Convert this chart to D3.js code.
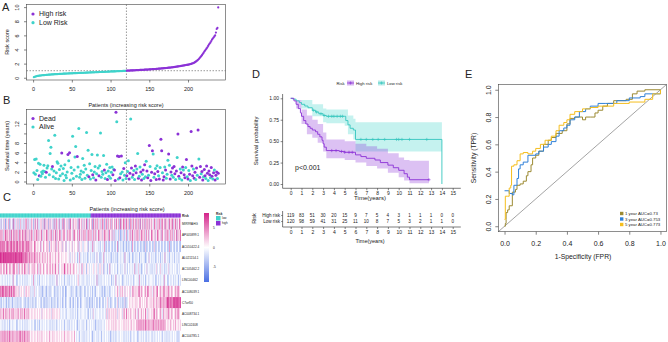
<!DOCTYPE html>
<html>
<head>
<meta charset="utf-8">
<script src="https://cdn.jsdelivr.net/npm/d3@7"></script>
<style>
body { margin: 0; background: #fff; }
text { font-family: "Liberation Sans", Arial, sans-serif; fill: #222; }
</style>
</head>
<body>
<svg id="fig" width="668" height="342"></svg>
<script>
// ----- data -----
const nLow = 120;          // first 120 patients = low risk, remaining 119 = high risk
const cutoff = 0.995;      // median risk score

const riskScore = [
  0.08,0.13,0.17,0.2,0.23,0.25,0.27,0.29,0.31,0.32,
  0.34,0.35,0.36,0.37,0.38,0.39,0.40,0.41,0.42,0.43,
  0.44,0.45,0.46,0.47,0.47,0.48,0.49,0.5,0.5,0.51,
  0.52,0.52,0.53,0.54,0.54,0.55,0.56,0.56,0.57,0.57,
  0.58,0.59,0.59,0.6,0.6,0.61,0.61,0.62,0.62,0.63,
  0.63,0.64,0.64,0.65,0.65,0.66,0.66,0.67,0.67,0.68,
  0.68,0.69,0.69,0.7,0.7,0.71,0.71,0.72,0.72,0.73,
  0.73,0.74,0.74,0.75,0.75,0.76,0.76,0.77,0.77,0.78,
  0.78,0.79,0.79,0.8,0.8,0.81,0.81,0.82,0.82,0.83,
  0.83,0.84,0.84,0.85,0.85,0.86,0.86,0.87,0.87,0.88,
  0.88,0.89,0.89,0.9,0.9,0.91,0.91,0.92,0.92,0.93,
  0.93,0.94,0.94,0.95,0.95,0.96,0.96,0.97,0.98,0.99,
  1.0,1.01,1.01,1.02,1.02,1.03,1.03,1.04,1.04,1.05,
  1.05,1.06,1.07,1.07,1.08,1.08,1.09,1.1,1.1,1.11,
  1.12,1.12,1.13,1.14,1.14,1.15,1.16,1.16,1.17,1.18,
  1.19,1.19,1.2,1.21,1.22,1.22,1.23,1.24,1.25,1.26,
  1.27,1.28,1.29,1.3,1.31,1.32,1.33,1.34,1.35,1.36,
  1.37,1.38,1.39,1.4,1.42,1.43,1.44,1.45,1.47,1.48,
  1.5,1.51,1.53,1.54,1.56,1.58,1.6,1.61,1.63,1.65,
  1.67,1.69,1.71,1.73,1.75,1.77,1.79,1.81,1.83,1.85,
  1.87,1.9,1.93,1.96,2.0,2.04,2.08,2.13,2.2,2.28,
  2.36,2.45,2.55,2.65,2.78,2.92,3.05,3.2,3.35,3.52,
  3.7,3.85,4.0,4.15,4.3,4.5,4.7,4.85,5.0,5.2,
  5.4,5.55,5.7,5.85,6.0,6.4,6.9,7.05,9.95
];

const survTime = [
  1.8,4.6,1.5,4.7,2.3,0.4,3.8,1.2,3.6,1.1,
  2.0,1.6,2.2,3.4,2.1,0.9,1.9,2.8,3.3,8.5,
  1.4,5.8,7.1,2.6,3.1,1.0,2.2,9.6,0.6,1.8,
  4.1,3.8,0.5,2.5,1.2,3.2,5.9,1.6,2.7,0.2,
  3.5,1.3,0.8,2.0,5.6,4.3,6.0,0.3,2.9,1.7,
  9.4,0.6,2.4,5.1,7.3,1.1,5.2,3.0,11.0,0.9,
  1.5,2.2,0.4,4.8,1.9,3.4,0.7,2.6,10.2,1.3,
  6.5,1.0,3.7,0.5,2.3,5.6,1.4,0.8,2.0,3.1,
  0.3,1.6,5.5,2.8,1.2,3.3,10.1,0.9,2.1,1.5,
  5.4,2.4,0.6,1.8,3.6,0.4,2.2,1.1,2.9,0.7,
  1.9,3.0,1.4,2.5,2.4,0.2,14.4,12.4,5.3,0.5,
  5.2,0.8,1.6,5.3,2.0,0.3,2.7,1.3,3.9,0.6,
  1.2,2.1,4.3,0.5,1.7,13.0,2.8,0.9,1.4,2.3,
  0.4,3.2,1.8,2.6,5.8,0.7,1.1,3.0,2.0,0.3,
  1.5,2.4,0.6,3.5,1.0,4.2,2.2,0.8,1.3,7.5,
  3.1,0.2,1.9,6.4,5.7,0.9,1.6,2.7,0.4,3.3,
  2.1,1.2,0.5,2.9,8.8,6.4,1.8,0.3,1.0,3.0,
  2.4,0.7,1.5,4.4,5.7,3.4,0.5,2.0,1.3,2.8,
  0.9,3.1,1.6,0.4,2.2,5.0,9.9,1.1,0.6,2.6,
  1.8,0.3,3.0,2.4,1.4,0.8,2.9,4.6,1.0,0.5,
  2.3,1.5,0.2,10.4,3.2,1.2,2.6,0.7,1.9,0.4,
  2.8,1.3,10.7,4.7,0.9,3.1,1.6,2.1,0.3,1.0,
  2.5,1.2,0.6,3.2,1.7,0.2,2.2,1.4,0.8,2.9,
  1.1,0.5,1.8,2.4,0.3,1.3,2.0,0.6,1.7
];

const survDead = [
  0,0,0,0,0,0,0,1,0,0,
  0,0,0,0,0,0,1,0,0,0,
  0,0,0,0,1,0,0,0,0,0,
  0,0,0,0,0,0,1,0,0,0,
  0,0,0,0,1,0,1,0,0,0,
  0,0,0,0,0,0,1,0,0,0,
  0,0,0,0,0,0,0,0,0,0,
  0,1,0,0,0,0,1,0,0,0,
  1,0,0,0,1,0,0,0,0,0,
  0,1,0,0,0,1,0,0,0,0,
  0,0,1,0,1,1,1,0,1,0,
  1,1,0,1,0,0,1,0,0,0,
  1,0,0,1,1,0,1,0,1,0,
  0,1,1,0,0,1,0,0,1,1,
  0,1,0,1,0,0,1,1,0,1,
  0,1,1,1,0,0,1,0,1,0,
  1,0,1,0,1,1,0,1,1,0,
  1,0,0,0,1,0,1,1,0,1,
  0,1,1,0,1,0,1,1,0,0,
  1,0,1,0,1,1,0,1,0,1,
  0,1,0,1,1,1,0,1,1,0,
  1,0,1,0,1,1,0,1,1,0,
  1,1,0,1,1,0,1,1,0,1,
  1,0,1,0,1,1,1,0,1
];

const genes = ["MIR99AHG","AP005899.1","AC010422.4","AL021154.1","AC105462.2","LINC00462",
               "AC108039.1","C7orf50","AC008734.1","LINC02408","AC104785.1"];

// one digit per patient, 4 = 0 (white), 8 = strong pink, 0 = strong blue
const heatLevels = [
  "3524364153 4625343725 3463524634 2536473524 3645253746 2435463527 3546253643 5263745362 4357264535 3627453646 4536274563 5364725364 4627536475 3546374625 5736456374 4635746527 3647563746 5274637456 3746527463 5637465374 6453746356 4736574637 5463746573 6475364756",
  "6475364857 4563674736 5746375648 4657365473 5746356475 6354763546 4756354763 5647365475 6354764536 4756453674 5463574635 6475364756 4635746354 7564536475 6453764536 3524342352 2435324632 4563574635 6475364756 4635746354 7564536475 6453764536 5746357463 5647365476",
  "6857676567 7657685767 5768567657 6756586756 5645475645 4546354654 4564525464 5456364645 4536445254 4354463454 4453634543 3454435243 4363534434 3423434363 3243234332 4323462343 3432343234 2343264323 4323432342 3253234323 4323532343 2343234323 4323632343 3243234324",
  "8787878878 7878787787 8787778787 6767676567 5656575656 4565456546 5465456545 4546454654 4545445454 4353453454 3424363434 3343423343 3434234353 4323343634 3343433243 3424324343 4343363434 3243423343 3434234343 4323343534 3343423343 3424334363 4343243434 3243433342",
  "5654656475 5465645676 4565365456 5475645365 4546564546 5356454654 4565456546 5457454634 4546485546 5456454654 4543454365 3454245434 4345434543 3464345234 3424363434 4343424343 3434353424 4343434363 3435343234 4343534343 3424343534 4353434243 3435343434 4343424343",
  "4343434343 3434343634 4323434343 3434243434 4343634343 3424343434 4343434243 3434363434 4343424343 3424343434 4346434343 3434342434 4343434363 3424343434 4343434243 3436343434 4323434343 3434342434 4343634343 3424343434 4343432343 3434343634 4323434343 3434342434",
  "6758756767 5676585676 5464535454 4535464545 3424353434 4333422343 3234332434 4323423343 3432342234 4343324343 3234332424 4323433343 3424332434 4343324323 3434233434 4345464535 5464535454 4535465645 5456745654 4565476545 5436545674 4565456745 5476545654 4565476544",
  "3324334323 4233432343 3423342334 4332433243 3423342334 4343324323 3324334323 4233432343 3423342334 4332433243 3423342334 4343324323 3324334323 4233432343 3453342334 4332453243 3423352334 4545454545 5454565454 4545654545 5456545654 6575656565 6787676767 7877787688",
  "5645745656 4565465745 5465645656 4575465645 4545454545 4454535454 4545454535 5454545454 3434343424 4343424343 3424343434 4343433243 3435343434 4343434343 4635464545 5464535454 4535654745 5464545456 4536454645 5474535454 5456745654 4565436545 5476545654 4565476545",
  "4343424343 3424343434 4323434343 3434243434 4343432343 3424343434 4343434243 3434243434 4343424343 3424343434 4323434343 3434243434 4343432343 3424343434 4545454545 5464545454 4545464545 5454645454 5656575656 6575656565 5657565656 6565756565 4545464545 5464545454",
  "5656575656 6575656565 5656566756 6575656565 4545454545 5454645454 4545464545 5454545454 4545464545 5454545464 4343424343 3424343434 4323434343 3434243434 4343432343 3424343434 4343424343 3424343434 4323434343 3434243434 3424343434 4343424343 3424343434 4343423343"
];

// Kaplan-Meier (time in years, survival)
const highKM = [[0,1],[0.3,0.97],[0.5,0.93],[0.7,0.88],[0.9,0.83],[1.0,0.79],[1.2,0.74],[1.4,0.7],[1.6,0.67],[1.8,0.65],[2.0,0.63],[2.3,0.61],[2.5,0.58],[2.7,0.55],[2.9,0.51],[3.0,0.47],[3.1,0.43],[3.3,0.39],[4.5,0.38],[5.0,0.37],[6.0,0.34],[6.5,0.32],[7.0,0.30],[7.8,0.28],[8.3,0.25],[9.0,0.22],[9.5,0.19],[10.0,0.16],[10.5,0.12],[10.8,0.08],[11.0,0.05],[12.8,0.05]];
const lowKM = [[0,1],[0.2,0.99],[0.5,0.97],[0.8,0.95],[1.0,0.93],[1.3,0.91],[1.6,0.89],[2.0,0.86],[2.3,0.84],[2.6,0.82],[3.0,0.80],[3.3,0.79],[5.0,0.79],[5.1,0.74],[5.3,0.69],[5.5,0.65],[5.8,0.63],[6.0,0.52],[14.0,0.52],[14.0,0]];
// [time, lower, upper]
const highBand = [[0,1,1],[0.5,0.88,0.98],[1,0.7,0.87],[1.5,0.58,0.8],[2,0.54,0.75],[2.5,0.48,0.7],[3,0.38,0.6],[3.3,0.3,0.52],[5,0.28,0.5],[6,0.25,0.47],[7,0.21,0.44],[8,0.18,0.41],[9,0.13,0.36],[10,0.08,0.31],[10.5,0.04,0.28],[11,0.01,0.27],[12.8,0.01,0.27]];
const lowBand = [[0,1,1],[1,0.88,0.98],[2,0.79,0.93],[3,0.72,0.88],[3.3,0.71,0.87],[5.0,0.68,0.87],[5.3,0.58,0.8],[5.8,0.52,0.76],[6,0.38,0.72],[14,0.38,0.72]];
const highCensor = [3.8,4.2,4.7,5.0,5.4,5.7,12.8];
const lowCensor = [2.1,2.4,2.8,3.1,3.5,3.8,4.0,4.3,4.6,4.8,6.5,7.0,7.6,8.1,8.7,9.8,10.0,10.3,11.0,12.6];
const timeTicks = d3.range(0, 16);
const highAtRisk = [119,83,51,30,20,15,9,7,5,4,3,1,1,1,0,0];
const lowAtRisk  = [120,98,59,41,31,25,11,10,8,7,5,3,2,1,1,0];

// ROC curves [FPR, TPR]
const roc1 = [[0,0],[0.005,0.02],[0.01,0.05],[0.01,0.1],[0.02,0.12],[0.03,0.15],[0.05,0.17],[0.05,0.25],[0.07,0.27],[0.08,0.3],[0.1,0.31],[0.12,0.33],[0.14,0.37],[0.15,0.4],[0.17,0.45],[0.18,0.5],[0.2,0.52],[0.22,0.55],[0.25,0.6],[0.28,0.63],[0.3,0.65],[0.33,0.68],[0.37,0.7],[0.4,0.75],[0.42,0.79],[0.45,0.8],[0.5,0.78],[0.52,0.8],[0.55,0.8],[0.58,0.83],[0.6,0.85],[0.63,0.88],[0.66,0.9],[0.7,0.92],[0.78,0.93],[0.82,0.97],[0.85,0.99],[0.9,1.0],[1,1]];
const roc3 = [[0,0.26],[0.03,0.24],[0.05,0.23],[0.06,0.3],[0.08,0.35],[0.09,0.42],[0.1,0.45],[0.12,0.47],[0.15,0.52],[0.2,0.53],[0.22,0.55],[0.25,0.58],[0.28,0.6],[0.3,0.62],[0.33,0.66],[0.35,0.7],[0.38,0.72],[0.4,0.74],[0.42,0.78],[0.45,0.8],[0.48,0.84],[0.52,0.86],[0.55,0.88],[0.6,0.9],[0.65,0.9],[0.72,0.92],[0.8,0.94],[0.87,0.95],[0.9,0.97],[1,1]];
const roc5 = [[0,0.05],[0.005,0.22],[0.02,0.22],[0.03,0.28],[0.04,0.3],[0.045,0.44],[0.06,0.45],[0.08,0.48],[0.1,0.53],[0.12,0.54],[0.15,0.53],[0.18,0.55],[0.2,0.57],[0.23,0.6],[0.26,0.63],[0.3,0.66],[0.33,0.7],[0.35,0.74],[0.38,0.76],[0.4,0.78],[0.42,0.82],[0.45,0.84],[0.5,0.86],[0.55,0.87],[0.6,0.88],[0.7,0.9],[0.8,0.91],[0.9,0.93],[0.95,0.97],[1,1]];
const rocNames = ["1 year AUC=0.73","3 year AUC=0.753","5 year AUC=0.773"];

// ----- drawing -----
const purple = "#8B32D6", teal = "#3FD3CB";
const rocColors = ["#9C8A32", "#2F80D8", "#F5BE1E"];
const svg = d3.select("#fig");
svg.append("rect").attr("width", 668).attr("height", 342).attr("fill", "#fff");

const nPat = riskScore.length;
const xPat = d3.scaleLinear().domain([1 - 9.52, nPat + 9.52]).range([26.5, 225.6]);

function styleAxis(g, size) {
  g.select(".domain").remove();
  g.selectAll("line").attr("stroke", "#333").attr("stroke-width", 0.6);
  g.selectAll("text").attr("font-size", size).attr("fill", "#222").attr("font-family", "Liberation Sans, Arial, sans-serif");
}
function rotateLeftLabels(g, off) {
  g.selectAll("text").attr("x", 0).attr("dy", 0).attr("text-anchor", "middle")
    .attr("transform", `translate(${-off},0) rotate(-90)`);
}
function box(x0, x1, y0, y1) {
  svg.append("rect").attr("x", x0).attr("y", y0).attr("width", x1 - x0).attr("height", y1 - y0)
    .attr("fill", "none").attr("stroke", "#444").attr("stroke-width", 0.6);
}
function txt(s, x, y, size, opts = {}) {
  const t = svg.append("text").attr("x", x).attr("y", y).attr("font-size", size).text(s)
    .attr("text-anchor", opts.anchor || "start");
  if (opts.rotate) t.attr("transform", `rotate(-90,${x},${y})`);
  if (opts.fill) t.attr("fill", opts.fill);
  if (opts.weight) t.attr("font-weight", opts.weight);
  return t;
}

// panel letters
[["A", 2, 10.5], ["B", 3, 103.5], ["C", 3, 201], ["D", 252, 77.5], ["E", 465, 77.5]]
  .forEach(([l, x, y]) => txt(l, x, y, 11));

// ---- A: risk score ----
const yRisk = d3.scaleLinear().domain([-0.32, 10.37]).range([80, 4.5]);
box(26.5, 225.6, 4.5, 80);
svg.append("line").attr("x1", xPat(nLow + 0.5)).attr("x2", xPat(nLow + 0.5)).attr("y1", 4.5).attr("y2", 80)
  .attr("stroke", "#555").attr("stroke-width", 0.6).attr("stroke-dasharray", "1.5,1.5");
svg.append("line").attr("x1", 26.5).attr("x2", 225.6).attr("y1", yRisk(cutoff)).attr("y2", yRisk(cutoff))
  .attr("stroke", "#555").attr("stroke-width", 0.6).attr("stroke-dasharray", "1.5,1.5");
svg.append("g").selectAll("circle").data(riskScore).join("circle")
  .attr("cx", (d, i) => xPat(i + 1)).attr("cy", d => yRisk(d)).attr("r", 1.1)
  .attr("fill", (d, i) => i < nLow ? teal : purple);
svg.append("g").attr("transform", "translate(0,80)")
  .call(d3.axisBottom(xPat).tickValues([0, 50, 100, 150, 200]).tickSize(2.5).tickPadding(5))
  .call(g => styleAxis(g, 5.5));
svg.append("g").attr("transform", "translate(26.5,0)")
  .call(d3.axisLeft(yRisk).tickValues([0, 2, 4, 6, 8, 10]).tickSize(2.5))
  .call(g => styleAxis(g, 5.5)).call(g => rotateLeftLabels(g, 8));
txt("Patients (increasing risk score)", 126, 107, 5.5, { anchor: "middle" });
txt("Risk score", 9, 42, 5.5, { anchor: "middle", rotate: true });
[["High risk", purple, 14], ["Low Risk", teal, 22.7]].forEach(([l, c, y]) => {
  svg.append("circle").attr("cx", 33).attr("cy", y).attr("r", 1.6).attr("fill", c);
  txt(l, 39, y + 2.4, 7);
});

// ---- B: survival time ----
const yTime = d3.scaleLinear().domain([-0.52, 14.97]).range([184, 109.5]);
box(26.5, 225.6, 109.5, 184);
svg.append("line").attr("x1", xPat(nLow + 0.5)).attr("x2", xPat(nLow + 0.5)).attr("y1", 109.5).attr("y2", 184)
  .attr("stroke", "#555").attr("stroke-width", 0.6).attr("stroke-dasharray", "1.5,1.5");
svg.append("g").selectAll("circle").data(survTime).join("circle")
  .attr("cx", (d, i) => xPat(i + 1)).attr("cy", d => yTime(d)).attr("r", 1.5)
  .attr("fill", (d, i) => survDead[i] ? purple : teal);
svg.append("g").attr("transform", "translate(0,184)")
  .call(d3.axisBottom(xPat).tickValues([0, 50, 100, 150, 200]).tickSize(2.5).tickPadding(5))
  .call(g => styleAxis(g, 5.5));
svg.append("g").attr("transform", "translate(26.5,0)")
  .call(d3.axisLeft(yTime).tickValues([0, 2, 4, 6, 8, 10, 12]).tickSize(2.5)
    .tickFormat(d => d === 10 ? "" : d))
  .call(g => styleAxis(g, 5.5)).call(g => rotateLeftLabels(g, 8));
txt("Survival time (years)", 9, 146, 5.5, { anchor: "middle", rotate: true });
[["Dead", purple, 118.5], ["Alive", teal, 127]].forEach(([l, c, y]) => {
  svg.append("circle").attr("cx", 33).attr("cy", y).attr("r", 1.6).attr("fill", c);
  txt(l, 39, y + 2.4, 7);
});

// ---- C: heatmap ----
const patIdx = d3.range(nPat);
const xHeat = d3.scaleBand().domain(patIdx).range([0, 180.5]);
const yHeat = d3.scaleBand().domain(genes).range([218.5, 342]);
const heatColor = d3.scaleLinear().domain([-9, 0, 9]).range(["#4A6FE3", "#ffffff", "#D4238A"]).clamp(true);
txt("Patients (increasing risk score)", 127, 211, 5.5, { anchor: "middle" });
svg.append("g").selectAll("rect").data(patIdx).join("rect")
  .attr("x", d => xHeat(d)).attr("y", 213.5).attr("width", xHeat.bandwidth() + 0.3).attr("height", 4)
  .attr("fill", d => d < nLow ? teal : purple);
txt("Risk", 182, 216.8, 3.2, { weight: "bold" });
const heatCells = [];
genes.forEach((g, gi) => {
  const lv = heatLevels[gi].replace(/ /g, "").split("").map(Number).slice(0, nPat);
  lv.forEach((v, j) => heatCells.push({ g, j, v: (v - 4) * 2.4 }));
});
svg.append("g").selectAll("rect").data(heatCells).join("rect")
  .attr("x", d => xHeat(d.j)).attr("y", d => yHeat(d.g))
  .attr("width", xHeat.bandwidth() + 0.3).attr("height", yHeat.bandwidth())
  .attr("fill", d => heatColor(d.v));
genes.forEach(g => txt(g, 182, yHeat(g) + yHeat.bandwidth() / 2 + 1.1, 3.1));
// colour key
const grad = svg.append("defs").append("linearGradient").attr("id", "hk")
  .attr("x1", 0).attr("x2", 0).attr("y1", 0).attr("y2", 1);
[[0, "#D4238A"], [0.5, "#ffffff"], [1, "#4A6FE3"]].forEach(([o, c]) =>
  grad.append("stop").attr("offset", o).attr("stop-color", c));
const yKey = d3.scaleLinear().domain([-9, 9]).range([282, 213]);
svg.append("rect").attr("x", 204).attr("y", 213).attr("width", 5).attr("height", 69).attr("fill", "url(#hk)");
[5, 0, -5].forEach(v => txt(v, 213, yKey(v) + 1, 3.2));
txt("Risk", 216, 215, 3, { weight: "bold" });
[["low", teal, 216], ["high", purple, 221]].forEach(([l, c, y]) => {
  svg.append("rect").attr("x", 216).attr("y", y).attr("width", 4.5).attr("height", 4.5).attr("fill", c);
  txt(l, 222, y + 3.2, 3);
});

// ---- D: Kaplan-Meier ----
const xT = d3.scaleLinear().domain([0, 15]).range([290.7, 452.7]);
const yS = d3.scaleLinear().domain([0, 1]).range([184, 98.3]);
const dLeft = xT(-0.75), dRight = xT(15.75), dBottom = yS(-0.05), dTop = yS(1.05);
const band = d3.area().curve(d3.curveStepAfter).x(d => xT(d[0])).y0(d => yS(d[1])).y1(d => yS(d[2]));
const kmLine = d3.line().curve(d3.curveStepAfter).x(d => xT(d[0])).y(d => yS(d[1]));
svg.append("path").attr("d", band(lowBand)).attr("fill", teal).attr("opacity", 0.3);
svg.append("path").attr("d", band(highBand)).attr("fill", purple).attr("opacity", 0.3);
svg.append("path").attr("d", kmLine(lowKM)).attr("fill", "none").attr("stroke", "#35C6BE").attr("stroke-width", 0.9);
svg.append("path").attr("d", kmLine(highKM)).attr("fill", "none").attr("stroke", purple).attr("stroke-width", 0.9);
function survAt(km, t) { let s = 1; km.forEach(([tt, ss]) => { if (tt <= t && ss > 0) s = ss; }); return s; }
function censor(times, km, col) {
  svg.append("g").selectAll("path").data(times).join("path")
    .attr("d", t => `M${xT(t) - 1.6},${yS(survAt(km, t))}h3.2M${xT(t)},${yS(survAt(km, t)) - 1.6}v3.2`)
    .attr("stroke", col).attr("stroke-width", 0.6);
}
censor(lowCensor, lowKM, "#35C6BE");
censor(highCensor, highKM, purple);
svg.append("line").attr("x1", dLeft).attr("x2", dLeft).attr("y1", dTop).attr("y2", dBottom).attr("stroke", "#222").attr("stroke-width", 0.6);
svg.append("line").attr("x1", dLeft).attr("x2", dRight).attr("y1", dBottom).attr("y2", dBottom).attr("stroke", "#222").attr("stroke-width", 0.6);
svg.append("g").attr("transform", `translate(0,${dBottom})`)
  .call(d3.axisBottom(xT).tickValues(timeTicks).tickSize(2).tickPadding(1.5))
  .call(g => styleAxis(g, 5));
svg.append("g").attr("transform", `translate(${dLeft},0)`)
  .call(d3.axisLeft(yS).tickValues([0, 0.25, 0.5, 0.75, 1]).tickFormat(d3.format(".2f")).tickSize(2).tickPadding(1.5))
  .call(g => styleAxis(g, 5));
txt("Time(years)", 370, 200, 6, { anchor: "middle" });
txt("Survival probability", 258, 141, 5.8, { anchor: "middle", rotate: true });
txt("p<0.001", 295, 170, 7);
// legend
txt("Risk", 336.5, 84.5, 4.2);
[[purple, "High risk", 347], ["#35C6BE", "Low risk", 378]].forEach(([c, l, x]) => {
  svg.append("rect").attr("x", x).attr("y", 80.5).attr("width", 7).attr("height", 5).attr("fill", c).attr("opacity", 0.35);
  svg.append("line").attr("x1", x).attr("x2", x + 7).attr("y1", 83).attr("y2", 83).attr("stroke", c).attr("stroke-width", 0.8);
  svg.append("path").attr("d", `M${x + 2},83h3M${x + 3.5},81.5v3`).attr("stroke", c).attr("stroke-width", 0.6);
  txt(l, x + 9, 84.5, 4.2);
});
// risk table
const rowHigh = 215.5, rowLow = 221.5, tBottom = 227;
svg.append("line").attr("x1", dLeft).attr("x2", dLeft).attr("y1", 211).attr("y2", tBottom).attr("stroke", "#222").attr("stroke-width", 0.6);
svg.append("line").attr("x1", dLeft).attr("x2", dRight).attr("y1", tBottom).attr("y2", tBottom).attr("stroke", "#222").attr("stroke-width", 0.6);
svg.append("g").attr("transform", `translate(0,${tBottom})`)
  .call(d3.axisBottom(xT).tickValues(timeTicks).tickSize(2).tickPadding(1.5))
  .call(g => styleAxis(g, 5));
[[highAtRisk, rowHigh, purple, "High risk"], [lowAtRisk, rowLow, "#35C6BE", "Low risk"]].forEach(([arr, y, c, l]) => {
  svg.append("g").selectAll("text").data(arr).join("text")
    .attr("x", (d, i) => xT(timeTicks[i])).attr("y", y + 1.6).attr("text-anchor", "middle")
    .attr("font-size", 4.6).attr("fill", c).text(d => d);
  txt(l, 280, y + 1.6, 4.6, { anchor: "end", fill: c });
  svg.append("line").attr("x1", dLeft - 1.5).attr("x2", dLeft).attr("y1", y).attr("y2", y).attr("stroke", "#222").attr("stroke-width", 0.5);
});
txt("Risk", 256, 218.5, 5.5, { anchor: "middle", rotate: true });
txt("Time(years)", 370, 243, 5.5, { anchor: "middle" });

// ---- E: ROC ----
const xF = d3.scaleLinear().domain([-0.04, 1.04]).range([498.3, 666.7]);
const yR = d3.scaleLinear().domain([-0.04, 1.04]).range([231.7, 84.3]);
box(498.3, 666.7, 84.3, 231.7);
svg.append("line").attr("x1", xF(-0.04)).attr("y1", yR(-0.04)).attr("x2", xF(1.04)).attr("y2", yR(1.04))
  .attr("stroke", "#666").attr("stroke-width", 0.6);
const rocLine = d3.line().curve(d3.curveStepAfter).x(d => xF(d[0])).y(d => yR(d[1]));
[roc1, roc3, roc5].forEach((r, i) => svg.append("path").attr("d", rocLine(r)).attr("fill", "none")
  .attr("stroke", rocColors[i]).attr("stroke-width", 1));
svg.append("g").attr("transform", "translate(0,231.7)")
  .call(d3.axisBottom(xF).tickValues([0, 0.2, 0.4, 0.6, 0.8, 1]).tickFormat(d3.format(".1f")).tickSize(3).tickPadding(6))
  .call(g => styleAxis(g, 7));
svg.append("g").attr("transform", "translate(498.3,0)")
  .call(d3.axisLeft(yR).tickValues([0, 0.2, 0.4, 0.6, 0.8, 1]).tickFormat(d3.format(".1f")).tickSize(3))
  .call(g => styleAxis(g, 7)).call(g => rotateLeftLabels(g, 7));
txt("1-Specificity (FPR)", 583, 259, 6.8, { anchor: "middle" });
txt("Sensitivity (TPR)", 476, 158, 6.8, { anchor: "middle", rotate: true });
rocNames.forEach((l, i) => {
  const y = 213.5 + i * 5.5;
  svg.append("rect").attr("x", 620).attr("y", y - 1.7).attr("width", 3.4).attr("height", 3.4).attr("fill", rocColors[i]);
  txt(l, 625, y + 1.5, 4.3);
});
</script>
</body>
</html>
